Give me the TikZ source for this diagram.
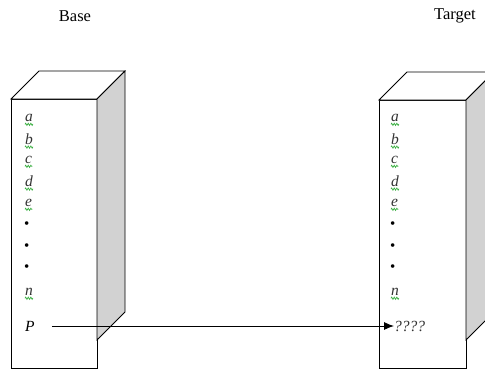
\documentclass[tikz,border=0pt]{standalone}
\usepackage{fontspec}
\setmainfont{Liberation Serif}
\usetikzlibrary{arrows.meta,decorations.pathmorphing}
\definecolor{sidegray}{HTML}{D2D2D2}
\definecolor{inkgray}{HTML}{333333}
\definecolor{spellgreen}{HTML}{3CB043}
\tikzset{
  face/.style={draw=black,line width=0.8pt,line join=miter},
  title/.style={font=\fontsize{16.5}{16.5}\selectfont,inner sep=0pt},
  entry/.style={font=\fontsize{15.5}{15.5}\selectfont\itshape,text=inkgray,inner sep=0pt,anchor=west},
  dotentry/.style={font=\fontsize{15}{15}\selectfont,inner sep=0pt,anchor=west},
  squiggle/.style={draw=spellgreen,line width=0.7pt,decorate,
    decoration={zigzag,amplitude=1.1pt,segment length=2.6pt}},
  link/.style={draw=black,line width=0.9pt,-{Latex[length=10pt,width=8pt]}}
}
% one column: front face, top face and shaded side face
\newcommand{\column}[4]{% #1 left x, #2 top y, #3 width, #4 height
  \fill[white] (#1,#2) rectangle ++(#3,#4);
  \draw[face] (#1,#2) rectangle ++(#3,#4);
  \draw[face,fill=white] (#1,#2) -- ++(28,-28) -- ++(#3,0) -- ++(-28,28) -- cycle;
  \draw[face,fill=sidegray] (#1+#3,#2) -- ++(28,-28) -- ++(0,#4-28) -- ++(-28,28) -- cycle;
}
% a letter with its spell-check underline
\newcommand{\tagged}[3]{% #1 name, #2 position, #3 letter
  \node[entry] (#1) at #2 {#3};
  \draw[squiggle] ([yshift=-2.4pt]#1.south west) -- ([yshift=-2.4pt]#1.south east);
}
\begin{document}
\begin{tikzpicture}[x=1pt,y=-1pt]
\useasboundingbox (0,0) rectangle (485,370);
\clip (0,0) rectangle (485,370);

\node[title] (base) at (75,16) {Base};
\node[title] (target) at (455,16) {Target};

\column{11}{99}{86}{269}
\column{379}{100}{87}{268}

% base column entries
\tagged{ba}{(25,118)}{a}
\tagged{bb}{(25,139)}{b}
\tagged{bc}{(25,160)}{c}
\tagged{bd}{(25,181)}{d}
\tagged{be}{(25,203)}{e}
\node[dotentry] (bd1) at (24,225) {•};
\node[dotentry] (bd2) at (24,247) {•};
\node[dotentry] (bd3) at (24,268) {•};
\tagged{bn}{(25,292)}{n}
\node[entry,text=black] (bp) at (25,326) {P};

% target column entries
\tagged{ta}{(391,118)}{a}
\tagged{tb}{(391,139)}{b}
\tagged{tc}{(391,160)}{c}
\tagged{td}{(391,181)}{d}
\tagged{te}{(391,203)}{e}
\node[dotentry] (td1) at (390,225) {•};
\node[dotentry] (td2) at (390,247) {•};
\node[dotentry] (td3) at (390,268) {•};
\tagged{tn}{(391,292)}{n}
\node[entry] (tq) at (394,326) {????};

\coordinate (start) at ([xshift=17pt]bp.east);
\draw[link] (start) -- (tq.west);
\end{tikzpicture}
\end{document}
